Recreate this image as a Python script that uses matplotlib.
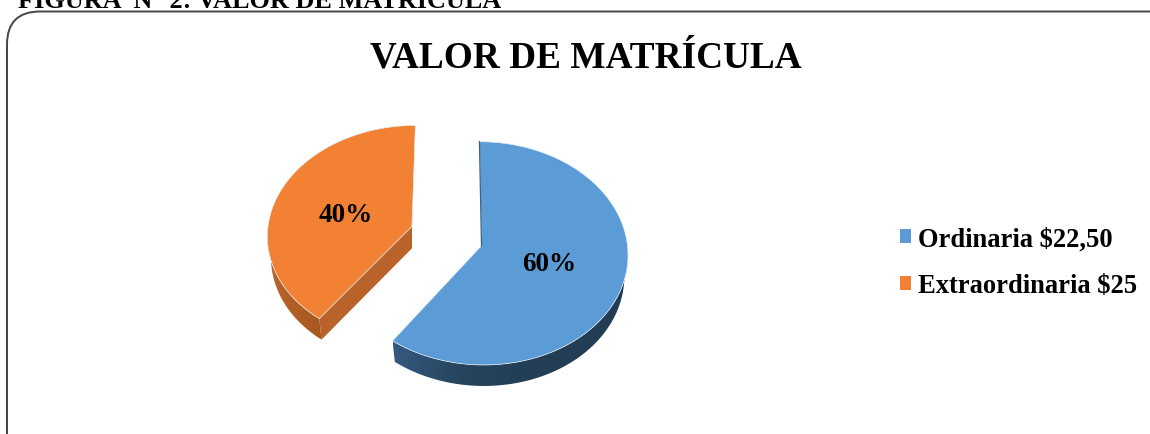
import numpy as np
import matplotlib
matplotlib.use("Agg")
import matplotlib.pyplot as plt
from matplotlib.patches import FancyBboxPatch, Polygon, Patch
from matplotlib.colors import LinearSegmentedColormap

plt.rcParams['font.family'] = ['Liberation Serif', 'DejaVu Serif']

categories = ["Ordinaria $22,50", "Extraordinaria $25"]
values = [60, 40]
chart_title = "VALOR DE MATRÍCULA"
page_caption = "FIGURA  N° 2: VALOR DE MATRÍCULA"

TOP_COLORS = ["#5b9bd6", "#f28134"]
LABEL_POS = [(549, 264.5), (346, 216)]
APEX = [(481.5, 246.7), (412.0, 227.3)]
SHEAR = [-2.2, 3.6]
SLICE_A = [146.0, 144.0]
SLICE_B = [111.1, 107.8]
P = 0.0685
DEPTH = 21.0
SIDE_SCALE = 0.975

fig = plt.figure(figsize=(11.5, 4.35), dpi=100)
ax = fig.add_axes([0, 0, 1, 1])
ax.axis("off")


def rim(i, t_deg, scale=1.0, dy=0.0):
    t = np.radians(t_deg)
    u, v = np.sin(t), np.cos(t)
    d = 1 + P * v
    x = APEX[i][0] + (scale * SLICE_A[i] * u + SHEAR[i] * v) / d
    y = APEX[i][1] + dy - SLICE_B[i] * v / d
    return x, y


def gradient_fill(poly_xy, stops, zorder):
    patch = Polygon(poly_xy, closed=True, fc="none", ec="none")
    ax.add_patch(patch)
    xs, ys = poly_xy[:, 0], poly_xy[:, 1]
    cmap = LinearSegmentedColormap.from_list("side", stops)
    im = ax.imshow(np.linspace(0, 1, 256)[None, :], cmap=cmap, aspect="auto",
                   extent=(xs.min(), xs.max(), ys.max(), ys.min()), zorder=zorder)
    im.set_clip_path(patch)


total = sum(values)
edges = np.cumsum([0] + values) / total * 360

# Blue slice: side wall below the outer arc
ts = np.linspace(edges[1], 98, 160)
upper = np.column_stack(rim(0, ts))
lower = np.column_stack(rim(0, ts, SIDE_SCALE, DEPTH))
gradient_fill(np.vstack([upper, lower[::-1]]),
              ["#35597e", "#284661", "#243f58", "#233d55", "#233d55"], 2)

# Orange slice: outer wall and cut wall
ts = np.linspace(edges[1], 268, 80)
upper = np.column_stack(rim(1, ts))
lower = np.column_stack(rim(1, ts, SIDE_SCALE, DEPTH))
gradient_fill(np.vstack([upper, lower[::-1]]), ["#b8652a", "#a8581f"], 2)
tip = np.array(rim(1, edges[1]))
tip_low = np.array(rim(1, edges[1], SIDE_SCALE, DEPTH))
ax.add_patch(Polygon([APEX[1], tip, tip_low, (APEX[1][0], APEX[1][1] + DEPTH + 1)],
                     closed=True, fc="#b9632a", ec="none", zorder=2))

# Top faces
for i, (a0, a1) in enumerate(zip(edges[:-1], edges[1:])):
    ts = np.linspace(a0, a1, 240)
    arc = np.column_stack(rim(i, ts))
    pts = np.vstack([[APEX[i]], arc])
    ax.add_patch(Polygon(pts, closed=True, fc=TOP_COLORS[i], ec="#e4eef7",
                         lw=0.5, zorder=3))
    ax.text(*LABEL_POS[i], f"{values[i] / total:.0%}", fontsize=19.5,
            fontweight="bold", ha="center", va="center", color="black", zorder=5)

# Thin dark edge on the blue slice's inner wall
top_blue = rim(0, 0.0)
ax.plot([APEX[0][0], top_blue[0]], [APEX[0][1], top_blue[1]],
        color="#3f6283", lw=0.9, zorder=4)

# Frame and texts
ax.add_patch(FancyBboxPatch((7, 12.5), 1300, 600,
                            boxstyle="round,pad=0,rounding_size=33",
                            fc="none", ec="#444444", lw=1.4, zorder=1, clip_on=True))
ax.text(18, 7.5, page_caption, fontsize=18.9, fontweight="bold", ha="left",
        va="baseline", color="black", clip_on=True)
ax.text(585.5, 58.5, chart_title, fontsize=26.8, fontweight="bold", ha="center",
        va="center", color="black")

handles = [Patch(fc=c, ec="none") for c in TOP_COLORS]
ax.legend(handles, categories, loc="center left", bbox_to_anchor=(899.5 / 1150, 1 - 263.5 / 435),
          frameon=False, handlelength=0.44, handleheight=0.44, handletextpad=0.24,
          labelspacing=0.82, borderpad=0, borderaxespad=0,
          prop={"size": 19.1, "weight": "bold"})

ax.set_xlim(0, 1150)
ax.set_ylim(435, 0)
fig.savefig("out.png", dpi=100)
